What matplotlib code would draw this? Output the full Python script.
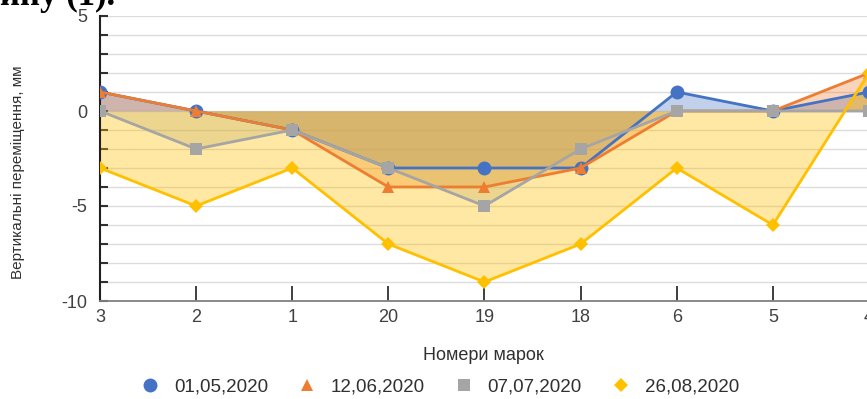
# displacement chart, area + line markers
import matplotlib.pyplot as plt
from matplotlib.lines import Line2D
import numpy as np

plt.rcParams['font.family'] = ['Liberation Sans', 'DejaVu Sans']

# data
marks = ['3', '2', '1', '20', '19', '18', '6', '5', '4']
dates = ['01,05,2020', '12,06,2020', '07,07,2020', '26,08,2020']
s_0105 = [1, 0, -1, -3, -3, -3, 1, 0, 1]
s_1206 = [1, 0, -1, -4, -4, -3, 0, 0, 2]
s_0707 = [0, -2, -1, -3, -5, -2, 0, 0, 0]
s_2608 = [-3, -5, -3, -7, -9, -7, -3, -6, 2]

series = [s_0105, s_1206, s_0707, s_2608]
colors = ['#4472C4', '#ED7D31', '#A5A5A5', '#FFC000']
markers = ['o', '^', 's', 'D']
msizes = [10, 9, 8, 7]
alphas = [0.33, 0.33, 0.33, 0.36]

W, H = 867, 399
fig = plt.figure(figsize=(W / 100, H / 100), dpi=100)
ax = fig.add_axes([100 / W, 1 - 301 / H, 769 / W, 285 / H])

x = np.arange(len(marks))

# fills first (to zero), then the lines on top
for vals, c, a in zip(series, colors, alphas):
    ax.fill_between(x, vals, 0, color=c, alpha=a, linewidth=0, zorder=2)
for vals, c, m, ms in zip(series, colors, markers, msizes):
    ax.plot(x, vals, color=c, lw=2.0, marker=m, markersize=ms,
            markeredgewidth=0, zorder=3)

ax.set_xlim(0, len(marks) - 1)
ax.set_ylim(-10, 5)

ax.set_yticks([5, 0, -5, -10])
ax.set_yticks(np.arange(-10, 6, 1), minor=True)
ax.set_yticklabels(['5', '0', '-5', '-10'])
ax.set_xticks(x)
ax.set_xticklabels(marks)

ax.grid(axis='y', which='both', color='#dcdcdc', linewidth=1, zorder=0)
ax.set_axisbelow(True)

ax.tick_params(axis='y', which='both', direction='in', length=6, width=1.5,
               color='#303030', labelcolor='#404040', labelsize=13, pad=9)
ax.tick_params(axis='x', which='major', direction='in', length=11, width=1.3,
               color='#303030', labelcolor='#404040', labelsize=13, pad=6)

for pos in ['right', 'top']:
    ax.spines[pos].set_visible(False)
ax.spines['left'].set_color('#202020')
ax.spines['left'].set_linewidth(1.5)
ax.spines['bottom'].set_color('#808080')
ax.spines['bottom'].set_linewidth(1.3)

fig.text(18 / W, 1 - 172 / H, 'Вертикальні переміщення, мм', fontsize=11,
         color='#303030', rotation=90, ha='center', va='center')
fig.text(483 / W, 1 - 356 / H, 'Номери марок', fontsize=13, color='#303030',
         ha='center', va='center')

# legend: markers only
handles = [Line2D([], [], linestyle='none', marker=m, markersize=ms,
                  markeredgewidth=0, color=c)
           for c, m, ms in zip(colors, markers, msizes)]
fig.legend(handles, dates, loc='center', bbox_to_anchor=(440 / W, 1 - 387 / H),
           ncol=4, frameon=False, fontsize=13.5, handlelength=1,
           handletextpad=0.75, columnspacing=1.6, labelcolor='#303030')

# cut-off caption above the chart
fig.text(0, 1 - 5 / H, 'ину (1).', fontsize=25, fontweight='bold',
         family='Liberation Serif', va='baseline', ha='left')

plt.savefig('out.png', dpi=100)
